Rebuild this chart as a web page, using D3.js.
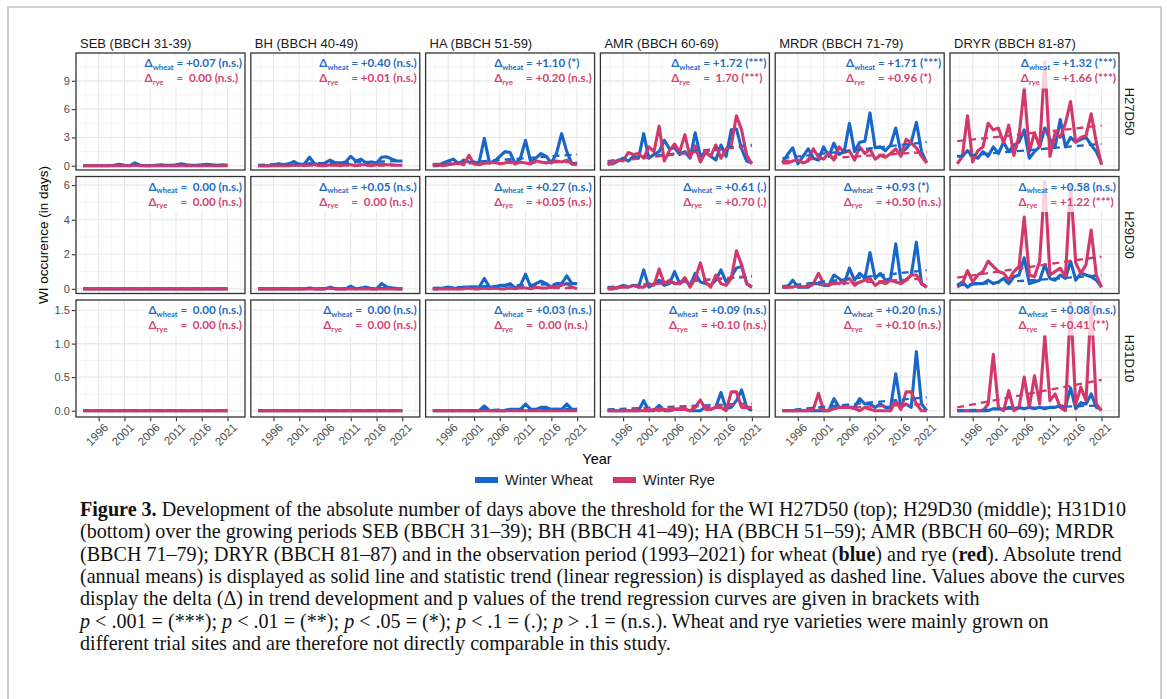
<!DOCTYPE html>
<html><head><meta charset="utf-8">
<script src="https://cdn.jsdelivr.net/npm/d3@7"></script>
<style>
body{margin:0;background:#fff;}
svg{display:block;}
text{white-space:pre;}
</style></head>
<body><svg id="c" width="1167" height="699"></svg>
<script>
// ---------------- DATA ----------------
const years = [1993,1994,1995,1996,1997,1998,1999,2000,2001,2002,2003,2004,2005,2006,2007,2008,2009,2010,2011,2012,2013,2014,2015,2016,2017,2018,2019,2020,2021];
const stages = ["SEB (BBCH 31-39)","BH (BBCH 40-49)","HA (BBCH 51-59)","AMR (BBCH 60-69)","MRDR (BBCH 71-79)","DRYR (BBCH 81-87)"];
const indices = ["H27D50","H29D30","H31D10"];
const xTicks = [1996,2001,2006,2011,2016,2021];
const yTicks_H27D50 = [0,3,6,9];
const yTicks_H29D30 = [0,2,4,6];
const yTicks_H31D10 = [0,0.5,1.0,1.5];
const yTickLabels_H31D10 = ["0.0","0.5","1.0","1.5"];

// H27D50
const wheat_H27D50_SEB  = [0,0,0,0,0,0,0.05,0.15,0.05,0,0.3,0.05,0,0,0.05,0.1,0.05,0.05,0.1,0.2,0.1,0.05,0.05,0.1,0.15,0.1,0.05,0.1,0.05];
const rye_H27D50_SEB    = [0,0,0,0,0,0,0,0,0,0,0.05,0,0,0,0,0,0,0,0,0,0,0,0,0,0,0,0,0,0];
const wheat_H27D50_BH   = [0,0,0,0.1,0.2,0.1,0.2,0.45,0.1,0.2,0.9,0.2,0.1,0.3,0.6,0.3,0.3,0.4,1.0,0.5,0.7,0.3,0.4,0.3,0.9,0.95,0.7,0.5,0.5];
const rye_H27D50_BH     = [0,0,0,0,0,0,0,0.05,0.1,0,0.2,0.1,0,0,0.1,0.1,0,0.2,0.1,0,0.1,0.1,0,0.1,0.15,0.1,0.1,0.05,0.05];
const wheat_H27D50_HA   = [0,0,0.3,0.5,0.7,0.2,0.6,0.4,0.3,0.4,2.9,0.3,0.5,1.0,1.5,1.4,0.2,0.8,2.7,0.4,0.8,1.3,1.0,0.3,1.3,3.4,1.5,0.2,0.3];
const rye_H27D50_HA     = [0,0.1,0,0.1,0.2,0.3,0.1,1.1,0.2,0.1,0.3,0.3,0.4,0.2,0.3,0.5,0.2,0.4,0.3,0.2,0.5,0.4,0.3,0.4,0.5,0.4,0.6,0.2,0.1];
const wheat_H27D50_AMR  = [0.3,0.2,0.5,0.8,0.5,1.0,0.8,3.4,0.8,1.2,1.5,2.7,1.8,1.9,1.2,1.5,0.8,3.5,1.0,1.5,1.0,0.6,2.2,1.0,3.8,3.9,1.8,0.5,0.3];
const rye_H27D50_AMR    = [0.1,0.3,0.6,0.5,1.4,1.2,1.3,0.8,2.0,1.5,4.2,0.5,1.6,2.3,1.5,3.3,0.9,2.1,0.4,1.4,1.0,2.2,0.8,1.8,2.2,5.3,3.8,1.1,0.2];
const wheat_H27D50_MRDR = [0.3,1.2,1.9,0.2,1.0,1.8,0.8,0.6,2.0,1.0,2.4,1.2,1.5,4.5,1.5,2.5,2.6,5.6,1.9,2.0,1.6,2.2,4.0,1.4,1.8,2.5,4.6,1.5,0.3];
const rye_H27D50_MRDR   = [0.3,0.3,0.5,0.6,0.3,0.5,1.8,0.9,0.7,1.4,0.6,2.0,1.4,1.6,0.6,2.0,1.3,1.8,0.7,1.1,0.9,1.3,1.8,1.0,2.8,2.4,1.9,1.0,0.3];
const wheat_H27D50_DRYR = [1.0,1.0,1.6,1.0,0.8,1.5,1.0,2.0,1.3,2.5,1.5,2.2,2.5,3.8,0.8,1.5,2.0,4.0,2.8,2.0,4.9,2.0,3.0,2.5,2.8,3.0,2.2,1.5,0.3];
const rye_H27D50_DRYR   = [0.2,1.0,5.3,0.4,1.6,2.0,4.5,3.8,4.0,2.4,4.3,1.1,3.2,8.2,1.5,3.5,2.0,11.0,1.0,3.5,3.0,4.5,6.8,2.5,3.0,3.2,5.5,2.5,0.1];
// H29D30
const wheat_H29D30_SEB  = [0,0,0,0,0,0,0,0,0,0,0,0,0,0,0,0,0,0,0,0,0,0,0,0,0,0,0,0,0];
const rye_H29D30_SEB    = [0,0,0,0,0,0,0,0,0,0,0,0,0,0,0,0,0,0,0,0,0,0,0,0,0,0,0,0,0];
const wheat_H29D30_BH   = [0,0,0,0,0,0,0,0,0,0,0.05,0,0,0,0.1,0,0,0,0.15,0,0.05,0.1,0,0,0.3,0.1,0.05,0,0];
const rye_H29D30_BH     = [0,0,0,0,0,0,0,0,0,0,0,0,0,0,0.05,0,0,0,0,0,0,0,0,0,0,0,0,0,0];
const wheat_H29D30_HA   = [0,0,0.05,0.1,0.05,0,0.1,0.1,0.1,0.1,0.6,0.1,0.1,0.2,0.2,0.3,0.05,0.2,0.85,0.1,0.3,0.45,0.3,0.1,0.3,0.3,0.75,0.3,0.3];
const rye_H29D30_HA     = [0,0,0,0,0,0,0,0.05,0,0,0.05,0,0.05,0,0,0.05,0,0.1,0.05,0,0.1,0.05,0.05,0.1,0.1,0.2,0.3,0.1,0];
const wheat_H29D30_AMR  = [0.05,0,0.05,0.2,0.1,0.2,0.1,1.1,0.1,0.3,0.5,0.2,0.3,1.0,0.3,0.5,0.2,0.9,0.4,0.3,0.2,0.5,1.1,0.4,0.7,1.2,1.3,0.3,0.1];
const rye_H29D30_AMR    = [0,0,0.1,0.1,0.1,0.2,0.1,0.1,0.3,0.2,1.15,0.3,0.5,0.3,0.3,0.65,0.1,0.6,1.5,0.4,0.1,0.8,0.3,0.2,0.6,2.2,1.4,0.3,0.1];
const wheat_H29D30_MRDR = [0.1,0.1,0.5,0.1,0.1,0.1,0.3,0.3,0.2,0.2,0.8,0.6,0.3,1.2,0.5,0.9,0.6,2.1,0.6,0.9,0.5,0.6,2.6,0.4,0.5,0.8,2.7,0.3,0.1];
const rye_H29D30_MRDR   = [0.1,0.1,0.1,0.2,0.1,0.2,0.3,0.9,0.3,0.2,0.4,0.3,0.5,0.6,0.2,0.4,0.5,0.6,0.2,0.4,0.3,0.5,0.4,0.3,0.5,0.8,0.8,0.3,0.1];
const wheat_H29D30_DRYR = [0.2,0.4,0.1,0.3,0.3,0.3,0.5,0.3,0.4,0.6,0.3,0.7,0.8,1.8,0.3,0.4,0.5,1.4,0.6,0.5,0.8,0.6,1.6,0.5,0.9,0.8,0.7,0.5,0.1];
const rye_H29D30_DRYR   = [0.1,0.3,1.05,0.4,0.8,1.0,1.6,1.3,1.0,0.9,0.5,1.0,1.3,4.15,0.8,0.7,1.6,6.2,0.8,1.0,1.2,0.7,6.0,1.5,0.9,1.4,3.4,0.8,0.1];
// H31D10
const wheat_H31D10_SEB  = [0,0,0,0,0,0,0,0,0,0,0,0,0,0,0,0,0,0,0,0,0,0,0,0,0,0,0,0,0];
const rye_H31D10_SEB    = [0,0,0,0,0,0,0,0,0,0,0,0,0,0,0,0,0,0,0,0,0,0,0,0,0,0,0,0,0];
const wheat_H31D10_BH   = [0,0,0,0,0,0,0,0,0,0,0,0,0,0,0,0,0,0,0,0,0,0,0,0,0,0,0,0,0];
const rye_H31D10_BH     = [0,0,0,0,0,0,0,0,0,0,0,0,0,0,0,0,0,0,0,0,0,0,0,0,0,0,0,0,0];
const wheat_H31D10_HA   = [0,0,0,0,0,0,0,0,0,0,0.07,0,0,0,0,0.02,0.02,0.02,0.1,0.02,0.02,0.05,0.05,0.02,0.02,0.02,0.1,0.02,0.02];
const rye_H31D10_HA     = [0,0,0,0,0,0,0,0,0,0,0,0,0,0,0,0,0,0,0,0,0,0,0,0,0,0,0,0,0];
const wheat_H31D10_AMR  = [0,0,0,0,0,0,0,0.15,0,0,0.08,0,0,0.02,0.03,0.02,0,0,0,0.06,0.02,0.05,0.27,0.03,0.05,0.15,0.31,0.05,0];
const rye_H31D10_AMR    = [0,0,0,0,0,0,0,0,0,0.02,0,0.02,0,0.02,0.02,0.02,0,0.05,0.16,0.02,0.02,0.05,0.05,0,0.28,0.28,0.05,0.05,0.05];
const wheat_H31D10_MRDR = [0,0,0,0,0,0,0,0,0,0,0.18,0.05,0.05,0.05,0.05,0.18,0.1,0.1,0.05,0.1,0.05,0.05,0.55,0.05,0.1,0.05,0.88,0.1,0];
const rye_H31D10_MRDR   = [0,0,0,0,0,0,0.02,0.26,0,0,0.03,0.05,0.05,0.05,0.03,0,0.05,0.02,0,0,0,0,0.15,0.02,0.28,0.28,0.1,0,0];
const wheat_H31D10_DRYR = [0,0,0,0,0,0,0,0.03,0.03,0.02,0.05,0.03,0.05,0.03,0.05,0.03,0.05,0.03,0.05,0.05,0.08,0.05,0.34,0.03,0.12,0.1,0.25,0.05,0.02];
const rye_H31D10_DRYR   = [0,0,0,0,0,0,0.1,0.84,0.05,0,0.3,0,0.05,0.5,0.05,0.52,0.1,1.12,0.15,0.25,0.05,0,1.6,0.1,0.35,0.15,1.6,0.1,0];

// linear trend (dashed) values at 1993 and 2021, per stage
const trendWheatStart_H27D50 = [0,0.1,0.1,0.5,0.8,1.0];
const trendWheatEnd_H27D50   = [0.07,0.5,1.2,2.22,2.51,2.32];
const trendRyeStart_H27D50   = [0,0.02,0.2,0.4,0.5,2.6];
const trendRyeEnd_H27D50     = [0,0.03,0.4,2.1,1.46,4.26];
const trendWheatStart_H29D30 = [0,0,0.05,0.1,0.15,0.2];
const trendWheatEnd_H29D30   = [0,0.05,0.32,0.71,1.08,0.78];
const trendRyeStart_H29D30   = [0,0,0,0.05,0.1,0.65];
const trendRyeEnd_H29D30     = [0,0,0.05,0.75,0.6,1.87];
const trendWheatStart_H31D10 = [0,0,0,0.02,0,0];
const trendWheatEnd_H31D10   = [0,0,0.03,0.11,0.2,0.08];
const trendRyeStart_H31D10   = [0,0,0,0,0,0.05];
const trendRyeEnd_H31D10     = [0,0,0,0.1,0.1,0.46];

// annotation labels
const labelWheat_H27D50 = ["= +0.07 (n.s.)","= +0.40 (n.s.)","= +1.10 (*)","= +1.72 (***)","= +1.71 (***)","= +1.32 (***)"];
const labelRye_H27D50   = ["=  0.00 (n.s.)","= +0.01 (n.s.)","= +0.20 (n.s.)","=  1.70 (***)","= +0.96 (*)","= +1.66 (***)"];
const labelWheat_H29D30 = ["=  0.00 (n.s.)","= +0.05 (n.s.)","= +0.27 (n.s.)","= +0.61 (.)","= +0.93 (*)","= +0.58 (n.s.)"];
const labelRye_H29D30   = ["=  0.00 (n.s.)","=  0.00 (n.s.)","= +0.05 (n.s.)","= +0.70 (.)","= +0.50 (n.s.)","= +1.22 (***)"];
const labelWheat_H31D10 = ["=  0.00 (n.s.)","=  0.00 (n.s.)","= +0.03 (n.s.)","= +0.09 (n.s.)","= +0.20 (n.s.)","= +0.08 (n.s.)"];
const labelRye_H31D10   = ["=  0.00 (n.s.)","=  0.00 (n.s.)","=  0.00 (n.s.)","= +0.10 (n.s.)","= +0.10 (n.s.)","= +0.41 (**)"];

const seriesNames = ["Winter Wheat","Winter Rye"];

// ---------------- TABLES BUILT FROM ARRAYS ----------------
const wheatRows = [
  [wheat_H27D50_SEB,wheat_H27D50_BH,wheat_H27D50_HA,wheat_H27D50_AMR,wheat_H27D50_MRDR,wheat_H27D50_DRYR],
  [wheat_H29D30_SEB,wheat_H29D30_BH,wheat_H29D30_HA,wheat_H29D30_AMR,wheat_H29D30_MRDR,wheat_H29D30_DRYR],
  [wheat_H31D10_SEB,wheat_H31D10_BH,wheat_H31D10_HA,wheat_H31D10_AMR,wheat_H31D10_MRDR,wheat_H31D10_DRYR]];
const ryeRows = [
  [rye_H27D50_SEB,rye_H27D50_BH,rye_H27D50_HA,rye_H27D50_AMR,rye_H27D50_MRDR,rye_H27D50_DRYR],
  [rye_H29D30_SEB,rye_H29D30_BH,rye_H29D30_HA,rye_H29D30_AMR,rye_H29D30_MRDR,rye_H29D30_DRYR],
  [rye_H31D10_SEB,rye_H31D10_BH,rye_H31D10_HA,rye_H31D10_AMR,rye_H31D10_MRDR,rye_H31D10_DRYR]];
const trendW = [[trendWheatStart_H27D50,trendWheatEnd_H27D50],[trendWheatStart_H29D30,trendWheatEnd_H29D30],[trendWheatStart_H31D10,trendWheatEnd_H31D10]];
const trendR = [[trendRyeStart_H27D50,trendRyeEnd_H27D50],[trendRyeStart_H29D30,trendRyeEnd_H29D30],[trendRyeStart_H31D10,trendRyeEnd_H31D10]];
const labW = [labelWheat_H27D50,labelWheat_H29D30,labelWheat_H31D10];
const labR = [labelRye_H27D50,labelRye_H29D30,labelRye_H31D10];
const yTicksRows = [yTicks_H27D50,yTicks_H29D30,yTicks_H31D10];

// ---------------- LAYOUT ----------------
const BLUE = "#1766c9", RED = "#d2386b";
const BLUE_T = "#1f6cc4", RED_T = "#d4426f";
const PL = 76, PW = 169, PSTEP = 174.8, PT = 53, PH = 117, RSTEP = 123.5;
const xDomain = [1991.6, 2024.4];
const yDomains = [[-0.45,11.95],[-0.27,6.5],[-0.094,1.65]];
const SANS = "'Liberation Sans', Arial, sans-serif";
const LF = "Lato, 'Open Sans', sans-serif";
const LFS = 11.6, SUBFS = 7.6;

const svg = d3.select("#c");
svg.append("rect").attr("x",8).attr("y",7).attr("width",1153).attr("height",720)
  .attr("fill","#fff").attr("stroke","#cfcfcf").attr("stroke-width",2);

const defs = svg.append("defs");

stages.forEach((s,c) => {
  svg.append("text").attr("x", PL + c*PSTEP + 4).attr("y", 47.5)
    .attr("font-family",SANS).attr("font-size",13).attr("fill","#1a1a1a").text(s);
});

function measure(g, build) {
  const t = g.append("text").attr("font-family",LF).attr("font-weight",700).attr("font-size",LFS);
  build(t);
  const w = t.node().getComputedTextLength();
  t.remove();
  return w;
}

indices.forEach((idx,r) => {
  const top = PT + r*RSTEP;
  const y = d3.scaleLinear().domain(yDomains[r]).range([top+PH, top]);
  const ticks = yTicksRows[r];
  const step = ticks[1]-ticks[0];
  const minorY = ticks.map(t => t + step/2).filter(v => v < yDomains[r][1]);

  svg.append("text").attr("transform",`translate(1129,${top+PH/2}) rotate(90)`)
    .attr("text-anchor","middle").attr("dominant-baseline","central")
    .attr("font-family",SANS).attr("font-size",13).attr("fill","#1a1a1a").text(idx);

  stages.forEach((s,c) => {
    const left = PL + c*PSTEP;
    const x = d3.scaleLinear().domain(xDomain).range([left, left+PW]);
    const g = svg.append("g");
    g.append("rect").attr("x",left).attr("y",top).attr("width",PW).attr("height",PH).attr("fill","#fff");
    const minorX = xTicks.map(t => t - 2.5).concat([xTicks[xTicks.length-1]+2.5]).filter(v => v > xDomain[0] && v < xDomain[1]);
    g.selectAll(".mx").data(minorX).join("line").attr("x1",d=>x(d)).attr("x2",d=>x(d)).attr("y1",top).attr("y2",top+PH).attr("stroke","#f2f2f2").attr("stroke-width",0.7);
    g.selectAll(".my").data(minorY).join("line").attr("y1",d=>y(d)).attr("y2",d=>y(d)).attr("x1",left).attr("x2",left+PW).attr("stroke","#f2f2f2").attr("stroke-width",0.7);
    g.selectAll(".Mx").data(xTicks).join("line").attr("x1",d=>x(d)).attr("x2",d=>x(d)).attr("y1",top).attr("y2",top+PH).attr("stroke","#e8e8e8").attr("stroke-width",1.1);
    g.selectAll(".My").data(ticks).join("line").attr("y1",d=>y(d)).attr("y2",d=>y(d)).attr("x1",left).attr("x2",left+PW).attr("stroke","#e8e8e8").attr("stroke-width",1.1);

    const cid = `clip${r}_${c}`;
    defs.append("clipPath").attr("id",cid).append("rect").attr("x",left).attr("y",top).attr("width",PW).attr("height",PH);
    const lg = g.append("g").attr("clip-path",`url(#${cid})`);
    const line = d3.line().x((d,i)=>x(years[i])).y(d=>y(d));
    const y0 = years[0], y1 = years[years.length-1];
    const tline = d3.line().x(d=>x(d[0])).y(d=>y(d[1]));
    lg.append("path").attr("d",line(wheatRows[r][c])).attr("fill","none").attr("stroke",BLUE).attr("stroke-width",3.1).attr("stroke-linejoin","round");
    lg.append("path").attr("d",line(ryeRows[r][c])).attr("fill","none").attr("stroke",RED).attr("stroke-width",3.1).attr("stroke-linejoin","round");
    lg.append("path").attr("d",tline([[y0,trendW[r][0][c]],[y1,trendW[r][1][c]]])).attr("fill","none").attr("stroke",BLUE).attr("stroke-width",2.3).attr("stroke-dasharray","7,5");
    lg.append("path").attr("d",tline([[y0,trendR[r][0][c]],[y1,trendR[r][1][c]]])).attr("fill","none").attr("stroke",RED).attr("stroke-width",2.3).attr("stroke-dasharray","7,5");

    // labels: two-line block, "=" column aligned, block right-aligned in panel
    const right = left + PW - 3;
    const wWheatFull = measure(g, t => { t.append("tspan").text("Δ"); t.append("tspan").attr("font-size",SUBFS).text("wheat"); t.append("tspan").text(" " + labW[r][c]); });
    const wPrefix = measure(g, t => { t.append("tspan").text("Δ"); t.append("tspan").attr("font-size",SUBFS).text("wheat"); t.append("tspan").text(" "); });
    const wRyeRest = measure(g, t => t.text(labR[r][c]));
    const blockW = Math.max(wWheatFull, wPrefix + wRyeRest);
    const bx = right - blockW;
    g.append("rect").attr("fill","#fff").attr("fill-opacity",0.78)
      .attr("x",bx-2).attr("y",top+2.5).attr("width",blockW+4.5).attr("height",33);
    const tw = g.append("text").attr("x",bx).attr("y",top+14)
      .attr("font-family",LF).attr("font-weight",700).attr("font-size",LFS).attr("fill",BLUE_T);
    tw.append("tspan").text("Δ");
    tw.append("tspan").attr("font-size",SUBFS).attr("dy",2.5).text("wheat");
    tw.append("tspan").attr("dy",-2.5).text(" " + labW[r][c]);
    const td = g.append("text").attr("x",bx).attr("y",top+29)
      .attr("font-family",LF).attr("font-weight",700).attr("font-size",LFS).attr("fill",RED_T);
    td.append("tspan").text("Δ");
    td.append("tspan").attr("font-size",SUBFS).attr("dy",2.5).text("rye");
    g.append("text").attr("x",bx + wPrefix).attr("y",top+29)
      .attr("font-family",LF).attr("font-weight",700).attr("font-size",LFS).attr("fill",RED_T).text(labR[r][c]);

    g.append("rect").attr("x",left).attr("y",top).attr("width",PW).attr("height",PH)
      .attr("fill","none").attr("stroke","#333").attr("stroke-width",1.3);

    if (c === 0) {
      const ax = svg.append("g").attr("transform",`translate(${left-0.5},0)`)
        .call(d3.axisLeft(y).tickValues(ticks).tickSize(3.7).tickPadding(2)
          .tickFormat((d,i)=> r===2 ? yTickLabels_H31D10[i] : d3.format("d")(d)));
      ax.select(".domain").remove();
      ax.selectAll(".tick line").attr("stroke","#333").attr("stroke-width",1.1);
      ax.selectAll(".tick text").attr("font-family",SANS).attr("font-size",11).attr("fill","#4d4d4d");
    }
    if (r === 2) {
      const ax = svg.append("g").attr("transform",`translate(0,${top+PH+0.5})`)
        .call(d3.axisBottom(x).tickValues(xTicks).tickSize(3.7).tickFormat(d3.format("d")));
      ax.select(".domain").remove();
      ax.selectAll(".tick line").attr("stroke","#333").attr("stroke-width",1.1);
      ax.selectAll(".tick text").attr("font-family",SANS).attr("font-size",11.5).attr("fill","#4d4d4d")
        .attr("text-anchor","end").attr("x",0).attr("y",0).attr("dy","0.71em")
        .attr("transform","translate(4,5) rotate(-45)");
    }
  });
});

// axis titles
svg.append("text").attr("transform","translate(43,235) rotate(-90)").attr("text-anchor","middle")
  .attr("dominant-baseline","central").attr("font-family",SANS).attr("font-size",13.5).attr("fill","#000")
  .text("WI occurence (in days)");
svg.append("text").attr("x",597).attr("y",464).attr("text-anchor","middle")
  .attr("font-family",SANS).attr("font-size",14.5).attr("fill","#000").text("Year");

// legend
const legX = [475, 613];
[BLUE, RED].forEach((col,i) => {
  svg.append("line").attr("x1",legX[i]).attr("x2",legX[i]+23).attr("y1",480).attr("y2",480)
    .attr("stroke",col).attr("stroke-width",6);
  svg.append("text").attr("x",legX[i]+30).attr("y",485).attr("font-family",SANS).attr("font-size",14.5)
    .attr("fill","#1a1a1a").text(seriesNames[i]);
});

// caption
const captionLines = [
  [["b","Figure 3."],["n"," Development of the absolute number of days above the threshold for the WI H27D50 (top); H29D30 (middle); H31D10"]],
  [["n","(bottom) over the growing periods SEB (BBCH 31–39); BH (BBCH 41–49); HA (BBCH 51–59); AMR (BBCH 60–69); MRDR"]],
  [["n","(BBCH 71–79); DRYR (BBCH 81–87) and in the observation period (1993–2021) for wheat ("],["b","blue"],["n",") and rye ("],["b","red"],["n","). Absolute trend"]],
  [["n","(annual means) is displayed as solid line and statistic trend (linear regression) is displayed as dashed line. Values above the curves"]],
  [["n","display the delta (Δ) in trend development and p values of the trend regression curves are given in brackets with"]],
  [["i","p"],["n"," < .001 = (***); "],["i","p"],["n"," < .01 = (**); "],["i","p"],["n"," < .05 = (*); "],["i","p"],["n"," < .1 = (.); "],["i","p"],["n"," > .1 = (n.s.). Wheat and rye varieties were mainly grown on"]],
  [["n","different trial sites and are therefore not directly comparable in this study."]]
];
const capG = svg.append("g").attr("font-family","'Liberation Serif','Times New Roman',serif").attr("font-size",20.1).attr("fill","#111");
captionLines.forEach((segs,li) => {
  const t = capG.append("text").attr("x",80).attr("y",516 + li*22.3);
  segs.forEach(([k,s]) => {
    const sp = t.append("tspan").text(s);
    if (k==="b") sp.attr("font-weight",700);
    if (k==="i") sp.attr("font-style","italic");
  });
});
</script>
</body></html>
